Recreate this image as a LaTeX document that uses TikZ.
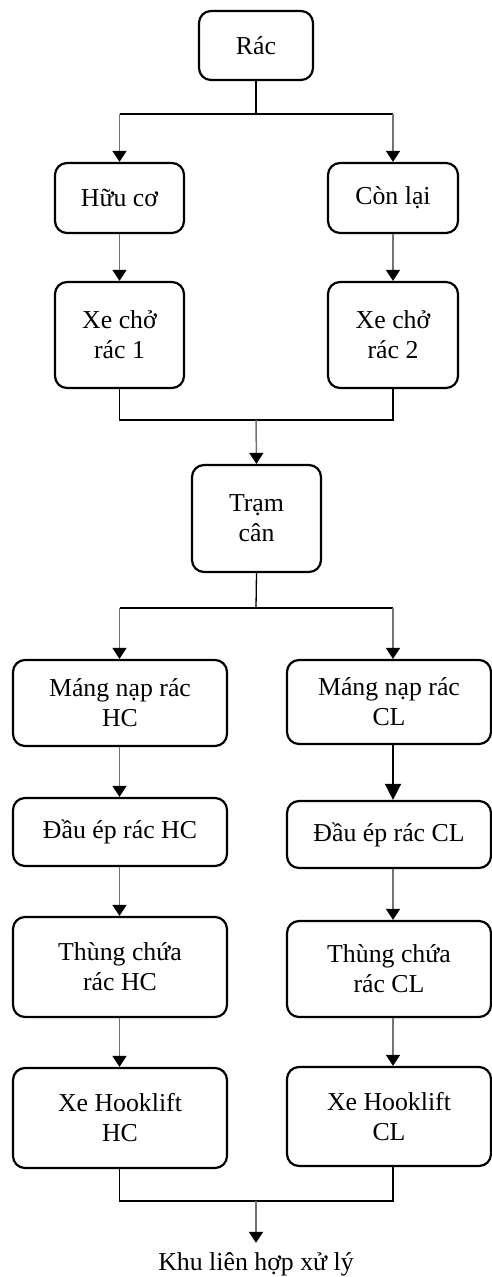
\documentclass[tikz,border=0pt]{standalone}
\usepackage{fontspec}
\setmainfont{Liberation Serif}
\usetikzlibrary{arrows.meta}

\begin{document}
\begin{tikzpicture}[x=1pt, y=-1pt,
  box/.style={draw, line width=2.2pt, rounded corners=12pt, align=center,
    inner sep=0pt, font=\fontsize{25.8}{30}\selectfont},
  link/.style={line width=1.3pt},
  flow/.style={draw=black!55, line width=1.5pt,
    -{Triangle[width=14pt, length=11pt, color=black]}},
  flowdark/.style={draw=black, line width=1.5pt,
    -{Triangle[width=16pt, length=16pt, color=black]}},
]
\useasboundingbox (0,0) rectangle (492,1277);

% top level
\node[box, minimum width=114pt, minimum height=69pt] (rac) at (256,45.5) {Rác};
\node[box, minimum width=129pt, minimum height=70pt] (huuco) at (119.5,198) {Hữu cơ};
\node[box, minimum width=130pt, minimum height=70pt] (conlai) at (393,198) {Còn lại};
\node[box, minimum width=129pt, minimum height=106pt] (xe1) at (119.5,335) {Xe chở\\rác 1};
\node[box, minimum width=130pt, minimum height=106pt] (xe2) at (393,335) {Xe chở\\rác 2};
\node[box, minimum width=129pt, minimum height=107pt] (tram) at (256.5,518.5) {Trạm\\cân};

% organic line (left)
\node[box, minimum width=214pt, minimum height=86pt] (mangHC) at (120,703) {Máng nạp rác\\HC};
\node[box, minimum width=214pt, minimum height=68pt] (dauHC) at (120,832) {Đầu ép rác HC};
\node[box, minimum width=214pt, minimum height=100pt] (thungHC) at (120,967) {Thùng chứa\\rác HC};
\node[box, minimum width=214pt, minimum height=100pt] (hookHC) at (120,1118) {Xe Hooklift\\HC};

% remaining line (right)
\node[box, minimum width=204pt, minimum height=84pt] (mangCL) at (389,702) {Máng nạp rác\\CL};
\node[box, minimum width=204pt, minimum height=67pt] (dauCL) at (389,834.5) {Đầu ép rác CL};
\node[box, minimum width=204pt, minimum height=96pt] (thungCL) at (389,969) {Thùng chứa\\rác CL};
\node[box, minimum width=204pt, minimum height=99pt] (hookCL) at (389,1116.5) {Xe Hooklift\\CL};

% destination
\node[anchor=base, inner sep=0pt, inner ysep=9pt, font=\fontsize{25.8}{30}\selectfont]
  (khu) at (256,1270) {Khu liên hợp xử lý};

% junction points
\coordinate (j1) at (256,114);
\coordinate (j2) at (256,420);
\coordinate (j3) at (256,608);
\coordinate (j4) at (256,1201);

% split after Rác
\draw[link] (rac.south) -- (j1);
\draw[link] (j1 -| huuco) -- (j1 -| conlai);
\draw[flow] (j1 -| huuco) -- (huuco.north);
\draw[flow] (j1 -| conlai) -- (conlai.north);
\draw[flow] (huuco) -- (xe1);
\draw[flow] (conlai) -- (xe2);

% merge to weighing station
\draw[link] (xe1.south) -- (j2 -| xe1) -- (j2 -| xe2) -- (xe2.south);
\draw[flow] (j2) -- (tram.north);

% split after weighing station
\draw[link] (tram.south) -- (j3);
\draw[link] (j3 -| huuco) -- (j3 -| conlai);
\draw[flow] (j3 -| huuco) -- (mangHC.north -| huuco);
\draw[flow] (j3 -| conlai) -- (mangCL.north -| conlai);

% left chain
\draw[flow] (mangHC.south -| huuco) -- (dauHC.north -| huuco);
\draw[flow] (dauHC.south -| huuco) -- (thungHC.north -| huuco);
\draw[flow] (thungHC.south -| huuco) -- (hookHC.north -| huuco);

% right chain
\draw[flowdark] (mangCL.south -| conlai) -- (dauCL.north -| conlai);
\draw[flow] (dauCL.south -| conlai) -- (thungCL.north -| conlai);
\draw[flow] (thungCL.south -| conlai) -- (hookCL.north -| conlai);

% merge to treatment complex
\draw[link] (hookHC.south -| huuco) -- (j4 -| huuco) -- (j4 -| conlai) -- (hookCL.south -| conlai);
\draw[flow] (j4) -- (khu.north);
\end{tikzpicture}
\end{document}
